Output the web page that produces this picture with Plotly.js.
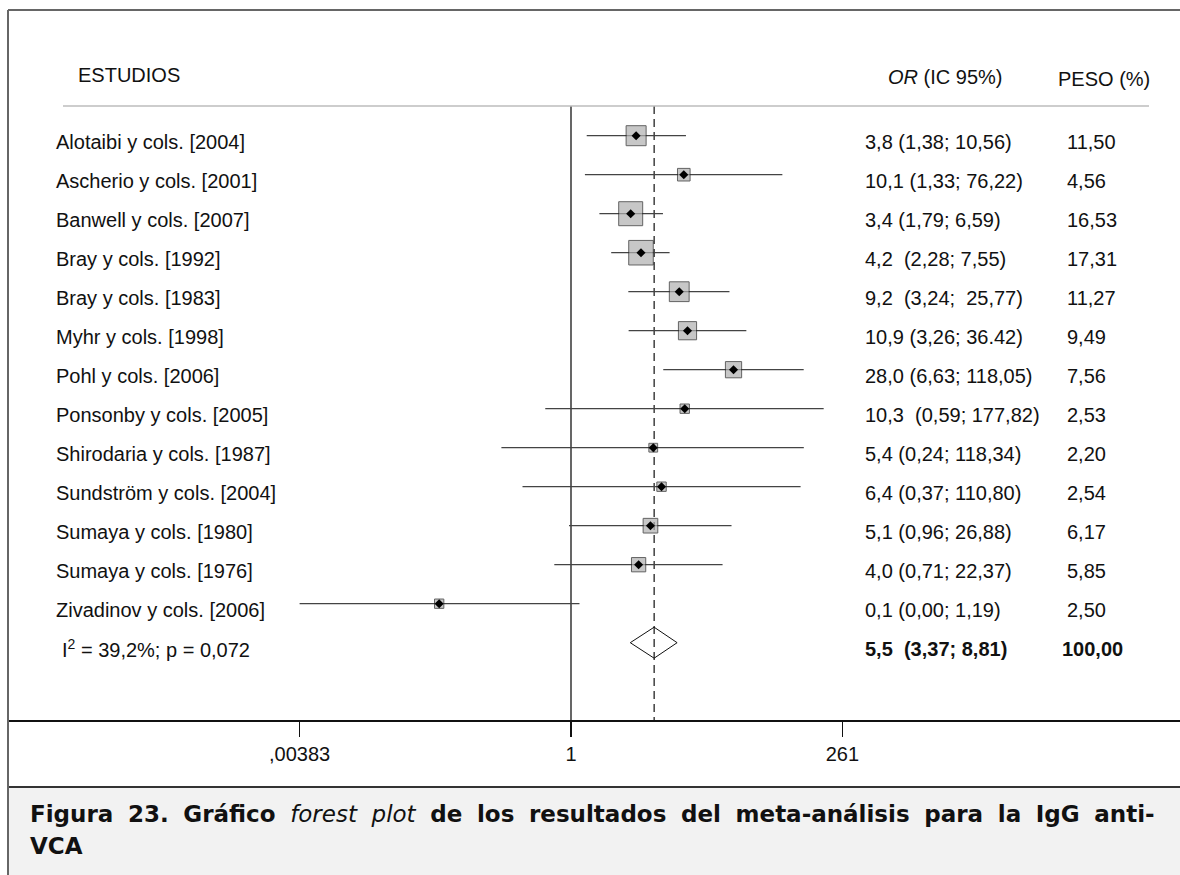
<!DOCTYPE html>
<html>
<head>
<meta charset="utf-8">
<script src="https://cdn.plot.ly/plotly-3.0.1.min.js"></script>
<style>
  html, body { margin: 0; padding: 0; background: #ffffff; }
  #chart { width: 1180px; height: 875px; }
</style>
</head>
<body>
<div id="chart"></div>
<script>
// ---------------- DATA ----------------
const studies = [
  "Alotaibi y cols. [2004]",
  "Ascherio y cols. [2001]",
  "Banwell y cols. [2007]",
  "Bray y cols. [1992]",
  "Bray y cols. [1983]",
  "Myhr y cols. [1998]",
  "Pohl y cols. [2006]",
  "Ponsonby y cols. [2005]",
  "Shirodaria y cols. [1987]",
  "Sundström y cols. [2004]",
  "Sumaya y cols. [1980]",
  "Sumaya y cols. [1976]",
  "Zivadinov y cols. [2006]"
];
const oddsRatio = [3.8, 10.1, 3.4, 4.2, 9.2, 10.9, 28.0, 10.3, 5.4, 6.4, 5.1, 4.0, 0.067];
const ciLow     = [1.38, 1.33, 1.79, 2.28, 3.24, 3.26, 6.63, 0.59, 0.24, 0.37, 0.96, 0.71, 0.00383];
const ciHigh    = [10.56, 76.22, 6.59, 7.55, 25.77, 36.42, 118.05, 177.82, 118.34, 110.80, 26.88, 22.37, 1.19];
const weights   = [11.50, 4.56, 16.53, 17.31, 11.27, 9.49, 7.56, 2.53, 2.20, 2.54, 6.17, 5.85, 2.50];
const orLabels = [
  "3,8 (1,38; 10,56)",
  "10,1 (1,33; 76,22)",
  "3,4 (1,79; 6,59)",
  "4,2\u00a0 (2,28; 7,55)",
  "9,2\u00a0 (3,24;\u00a0 25,77)",
  "10,9 (3,26; 36.42)",
  "28,0 (6,63; 118,05)",
  "10,3\u00a0 (0,59; 177,82)",
  "5,4 (0,24; 118,34)",
  "6,4 (0,37; 110,80)",
  "5,1 (0,96; 26,88)",
  "4,0 (0,71; 22,37)",
  "0,1 (0,00; 1,19)"
];
const weightLabels = ["11,50", "4,56", "16,53", "17,31", "11,27", "9,49", "7,56", "2,53", "2,20", "2,54", "6,17", "5,85", "2,50"];
const pooledOR = 5.5;
const pooledLow = 3.37;
const pooledHigh = 8.81;
const pooledLabel = "5,5\u00a0 (3,37; 8,81)";
const pooledWeightLabel = "100,00";
const heterogeneityLabel = "I<sup>2</sup> = 39,2%; p = 0,072";
const tickValues = [0.00383, 1, 261];
const tickLabels = [",00383", "1", "261"];
const headerStudies = "ESTUDIOS";
const headerOR = "<i>OR</i> (IC 95%)";
const headerWeight = "PESO (%)";
const captionWords1 = ["<b>Figura</b>", "<b>23.</b>", "<b>Gráfico</b>", "<i>forest</i>", "<i>plot</i>", "<b>de</b>", "<b>los</b>",
  "<b>resultados</b>", "<b>del</b>", "<b>meta-análisis</b>", "<b>para</b>", "<b>la</b>", "<b>IgG</b>", "<b>anti-</b>"];
const captionWords2 = ["<b>VCA</b>"];

// ---------------- LAYOUT HELPERS ----------------
const W = 1180, H = 875;
const fx = p => p / W;            // pixel x -> paper fraction
const fy = p => 1 - p / H;        // pixel y -> paper fraction
const rowPx = 39;                 // row spacing in px
const firstRowPx = 135.7;         // pixel y of first row
const axisPx = 720;               // pixel y of x axis line
const topPx = 10;
const headerLinePx = 106;
const rowOf = i => -i;
const pxToRow = p => -(p - firstRowPx) / rowPx;
const textOff = 6 / rowPx;

const n = studies.length;
const summaryRow = rowOf(n);
const yTop = pxToRow(headerLinePx);
const yBottom = pxToRow(axisPx);

const FONT = "Liberation Sans, Arial, Helvetica, sans-serif";
const TXT = {family: FONT, size: 20, color: "#111"};

// CI lines
const ciX = [], ciY = [];
for (let i = 0; i < n; i++) {
  ciX.push(ciLow[i], ciHigh[i], null);
  ciY.push(rowOf(i), rowOf(i), null);
}
const rowsY = studies.map((s, i) => rowOf(i));

const traces = [
  {x: [1, 1], y: [yTop, yBottom], mode: "lines", type: "scatter",
   line: {color: "#000", width: 1.2}, hoverinfo: "skip", cliponaxis: false},
  {x: [pooledOR, pooledOR], y: [yTop, yBottom], mode: "lines", type: "scatter",
   line: {color: "#111", width: 1.2, dash: "8px,5px"}, hoverinfo: "skip"},
  {x: ciX, y: ciY, mode: "lines", type: "scatter",
   line: {color: "#444", width: 1.3}, hoverinfo: "skip", cliponaxis: false},
  {x: oddsRatio, y: rowsY, mode: "markers", type: "scatter",
   marker: {symbol: "square", size: weights.map(w => 5.9 * Math.sqrt(w)),
            color: "#b0b0b0", line: {color: "#222", width: 1}}, hoverinfo: "skip"},
  {x: oddsRatio, y: rowsY, mode: "markers", type: "scatter",
   marker: {symbol: "diamond", size: 7, color: "#000"}, hoverinfo: "skip"},
  {x: [pooledLow, pooledOR, pooledHigh, pooledOR, pooledLow],
   y: [summaryRow, summaryRow + 15.5 / rowPx, summaryRow, summaryRow - 15.5 / rowPx, summaryRow],
   mode: "lines", type: "scatter", line: {color: "#111", width: 1}, hoverinfo: "skip"}
];

const annotations = [];
annotations.push({xref: "paper", yref: "paper", x: fx(76), y: fy(75), xanchor: "left", yanchor: "middle",
  text: headerStudies, showarrow: false, font: TXT});
annotations.push({xref: "paper", yref: "paper", x: fx(886), y: fy(77), xanchor: "left", yanchor: "middle",
  text: headerOR, showarrow: false, font: TXT});
annotations.push({xref: "paper", yref: "paper", x: fx(1056), y: fy(79), xanchor: "left", yanchor: "middle",
  text: headerWeight, showarrow: false, font: TXT});
for (let i = 0; i < n; i++) {
  annotations.push({xref: "paper", yref: "y", x: fx(54), y: rowOf(i) - textOff, xanchor: "left", yanchor: "middle",
    text: studies[i], showarrow: false, font: TXT});
  annotations.push({xref: "paper", yref: "y", x: fx(863), y: rowOf(i) - textOff, xanchor: "left", yanchor: "middle",
    text: orLabels[i], showarrow: false, font: TXT});
  annotations.push({xref: "paper", yref: "y", x: fx(1065), y: rowOf(i) - textOff, xanchor: "left", yanchor: "middle",
    text: weightLabels[i], showarrow: false, font: TXT});
}
annotations.push({xref: "paper", yref: "y", x: fx(60), y: summaryRow - textOff, xanchor: "left", yanchor: "middle",
  text: heterogeneityLabel, showarrow: false, font: TXT});
annotations.push({xref: "paper", yref: "y", x: fx(863), y: summaryRow - textOff, xanchor: "left", yanchor: "middle",
  text: "<b>" + pooledLabel + "</b>", showarrow: false, font: TXT});
annotations.push({xref: "paper", yref: "y", x: fx(1060), y: summaryRow - textOff, xanchor: "left", yanchor: "middle",
  text: "<b>" + pooledWeightLabel + "</b>", showarrow: false, font: TXT});
// caption (justified look: wider word gaps)
const CAP = {family: "DejaVu Sans, Verdana, sans-serif", size: 23, color: "#111"};
const GAP = " \u00a0";
annotations.push({xref: "paper", yref: "paper", x: fx(28), y: fy(814), xanchor: "left", yanchor: "middle",
  text: captionWords1.join(GAP), showarrow: false, font: CAP});
annotations.push({xref: "paper", yref: "paper", x: fx(28), y: fy(846), xanchor: "left", yanchor: "middle",
  text: captionWords2.join(GAP), showarrow: false, font: CAP});

const shapes = [
  {type: "rect", xref: "paper", yref: "paper", x0: fx(8), x1: 1, y0: 0, y1: fy(787),
   fillcolor: "#f2f2f2", line: {width: 0}, layer: "below"},
  {type: "line", xref: "paper", yref: "paper", x0: fx(8), x1: 1, y0: fy(787), y1: fy(787),
   line: {color: "#333", width: 2}},
  {type: "line", xref: "paper", yref: "paper", x0: fx(8), x1: 1, y0: fy(topPx), y1: fy(topPx),
   line: {color: "#666", width: 2}},
  {type: "line", xref: "paper", yref: "paper", x0: fx(8), x1: fx(8), y0: fy(topPx), y1: 0,
   line: {color: "#666", width: 2}},
  {type: "line", xref: "paper", yref: "paper", x0: fx(63), x1: fx(1149), y0: fy(headerLinePx), y1: fy(headerLinePx),
   line: {color: "#bdbdbd", width: 1.5}}
];

const PX1 = 571, PXDEC = 112.3;
const layout = {
  width: W, height: H,
  margin: {l: 0, r: 0, t: 0, b: 0},
  paper_bgcolor: "#ffffff", plot_bgcolor: "rgba(0,0,0,0)",
  showlegend: false,
  xaxis: {
    type: "log",
    domain: [fx(8), 1],
    range: [(8 - PX1) / PXDEC, (W - PX1) / PXDEC],
    tickvals: tickValues, ticktext: tickLabels,
    ticks: "outside", ticklen: 15, tickwidth: 1.5, tickcolor: "#111",
    showline: true, linecolor: "#111", linewidth: 2,
    showgrid: false, zeroline: false,
    tickfont: {family: FONT, size: 20, color: "#111"},
    fixedrange: true
  },
  yaxis: {
    domain: [fy(axisPx), fy(topPx)],
    range: [pxToRow(axisPx), pxToRow(topPx)],
    showgrid: false, zeroline: false, showticklabels: false, ticks: "",
    showline: false, fixedrange: true
  },
  annotations: annotations,
  shapes: shapes
};

Plotly.newPlot("chart", traces, layout, {displayModeBar: false, staticPlot: true});
</script>
</body>
</html>
